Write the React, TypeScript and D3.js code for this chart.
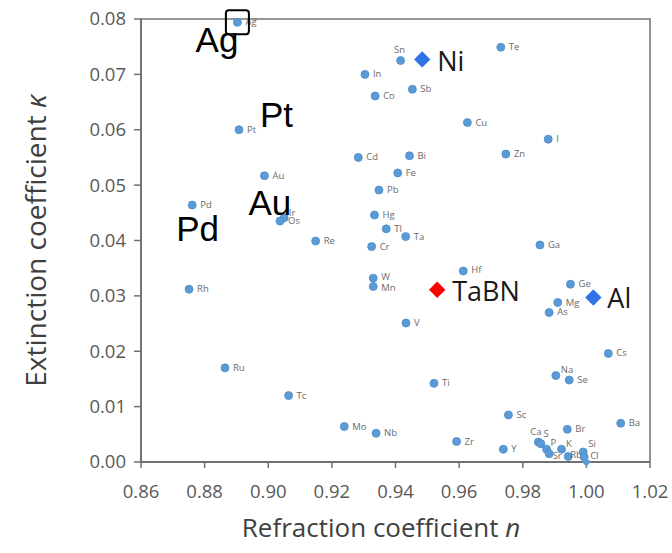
import React from 'react';
import * as d3 from 'd3';

const elements = ['Ag','Sn','In','Co','Pt','Cd','Te','Sb','Cu','I','Bi','Zn','Au','Pd','Ir','Os','Re','Fe','Pb','Hg','Tl','Ta','Cr','W','Mn','Rh','V','Ga','Hf','Ge','Mg','As','Ru','Tc','Mo','Nb','Cs','Ti','Na','Se','Sc','Ba','Br','Zr','Y','Ca','S','P','Sr','K','Rb','Si','Cl'];
const refractionN = [0.8903,0.9416,0.9304,0.9336,0.8908,0.9283,0.9731,0.9453,0.9626,0.9880,0.9444,0.9747,0.8988,0.8761,0.9050,0.9037,0.9149,0.9407,0.9348,0.9334,0.9371,0.9432,0.9325,0.9330,0.9330,0.8751,0.9433,0.9854,0.9613,0.9950,0.9910,0.9883,0.8864,0.9064,0.9239,0.9339,1.0069,0.9521,0.9904,0.9946,0.9755,1.0108,0.9940,0.9592,0.9739,0.9849,0.9857,0.9875,0.9883,0.9922,0.9943,0.9990,0.9993];
const extinctionK = [0.0794,0.0725,0.0700,0.0661,0.0600,0.0550,0.0749,0.0673,0.0613,0.0583,0.0553,0.0556,0.0517,0.0464,0.0441,0.0435,0.0399,0.0522,0.0491,0.0446,0.0421,0.0407,0.0389,0.0332,0.0317,0.0312,0.0251,0.0392,0.0345,0.0321,0.0288,0.0270,0.0170,0.0120,0.0064,0.0052,0.0196,0.0142,0.0156,0.0148,0.0085,0.0070,0.0059,0.0037,0.0023,0.0036,0.0033,0.0023,0.0015,0.0023,0.0010,0.0018,0.0009];

const highlightNames = ['Ni','TaBN','Al'];
const highlightN = [0.9484,0.9531,1.0022];
const highlightK = [0.0727,0.0311,0.0297];
const highlightColors = ['#2F74E6','#FF0000','#2F74E6'];

const vacuumN = [1.0];
const vacuumK = [0.0];

const calloutNames = ['Ag','Pt','Pd','Au'];

const xTicks = [0.86,0.88,0.90,0.92,0.94,0.96,0.98,1.00,1.02];
const yTicks = [0.00,0.01,0.02,0.03,0.04,0.05,0.06,0.07,0.08];

// label placement tweaks (dx, dy) relative to the dot
const labelOffsets: Record<string, [number, number]> = {
  Sn: [-6.5, -8], Na: [5, -3], Ca: [-8, -6.6], S: [2.5, -6.5], P: [4, -3.3],
  K: [4.5, -2.3], Sr: [3.5, 5.5], Rb: [2, 1.3], Si: [5, -5.3], Cl: [6, 1.7], Ir: [4.7, -2],
  Hf: [8, 2], W: [8, 2], Mn: [8, 4.5],
};
// big callout text offsets relative to the dot (x, baseline, anchor)
const calloutOffsets: Record<string, [number, number, string]> = {
  Ag: [1, 30, 'end'], Pt: [21, -3, 'start'], Pd: [-16, 36, 'start'], Au: [-16, 39, 'start'],
};
const highlightOffsets: Record<string, [number, number]> = {
  Ni: [15, 12], TaBN: [15, 11], Al: [14, 10],
};

export default function App() {
  const W = 672, H = 553;
  const x = d3.scaleLinear().domain([0.86, 1.02]).range([141, 650]);
  const y = d3.scaleLinear().domain([0, 0.08]).range([462, 19]);
  const fmt = d3.format('.2f');
  const diamond = (s: number) => d3.symbol().type(d3.symbolDiamond2).size(s)();
  const smallFont = "'Open Sans', 'Noto Sans', sans-serif";

  const pts = elements.map((e, i) => ({ e, n: refractionN[i], k: extinctionK[i] }));
  const byName = Object.fromEntries(pts.map(p => [p.e, p]));
  const agDot = byName['Ag'];

  return (
    <svg width={W} height={H} style={{ position: 'absolute', left: 0, top: 0, background: '#fff' }}>
      <rect x={0} y={0} width={W} height={H} fill="#fff" />
      {/* frame */}
      <rect x={x(0.86)} y={y(0.08)} width={x(1.02) - x(0.86)} height={y(0) - y(0.08)} fill="none" stroke="#8a8a8a" strokeWidth={1.8} />
      {/* axes */}
      <line x1={x(0.86)} x2={x(0.86)} y1={y(0.08)} y2={y(0)} stroke="#707070" strokeWidth={1.8} />
      <line x1={x(0.86)} x2={x(1.02)} y1={y(0)} y2={y(0)} stroke="#707070" strokeWidth={1.8} />
      {yTicks.map(t => (
        <g key={'y' + t}>
          <line x1={x(0.86) - 7} x2={x(0.86)} y1={y(t)} y2={y(t)} stroke="#707070" strokeWidth={1.5} />
          <text x={126} y={y(t)} dy="0.35em" textAnchor="end" fontFamily={smallFont} fontSize={18.5} fill="#595959">{fmt(t)}</text>
        </g>
      ))}
      {xTicks.map(t => (
        <g key={'x' + t}>
          <line x1={x(t)} x2={x(t)} y1={y(0)} y2={y(0) + 6} stroke="#707070" strokeWidth={1.5} />
          <text x={x(t)} y={498} textAnchor="middle" fontFamily={smallFont} fontSize={18.5} fill="#595959">{fmt(t)}</text>
        </g>
      ))}
      {/* axis titles */}
      <text transform={`translate(46, ${(y(0) + y(0.08)) / 2}) rotate(-90)`} textAnchor="middle" fontFamily={smallFont} fontSize={28} fill="#404040">
        Extinction coefficient <tspan fontStyle="italic">κ</tspan>
      </text>
      <text x={381} y={537} textAnchor="middle" fontFamily={smallFont} fontSize={26} fill="#404040">
        Refraction coefficient <tspan fontStyle="italic">n</tspan>
      </text>

      {/* element points */}
      {pts.map(p => {
        const off = labelOffsets[p.e] || [8, 3];
        return (
          <g key={p.e}>
            <circle cx={x(p.n)} cy={y(p.k)} r={4} fill="#5B9BD5" stroke="#4A8BCB" strokeWidth={0.8} />
            <text x={x(p.n) + off[0]} y={y(p.k) + off[1]} fontFamily={smallFont} fontSize={9.5} fill="#6b6b6b">{p.e}</text>
          </g>
        );
      })}
      {/* vacuum reference */}
      {vacuumN.map((n, i) => (
        <path key={'v' + i} d={diamond(50) || ''} transform={`translate(${x(n)},${y(vacuumK[i])})`} fill="#5B9BD5" />
      ))}

      {/* highlighted materials */}
      {highlightNames.map((name, i) => {
        const cx = x(highlightN[i]), cy = y(highlightK[i]);
        const off = highlightOffsets[name];
        return (
          <g key={name}>
            <path d={diamond(170) || ''} transform={`translate(${cx},${cy})`} fill={highlightColors[i]} />
            <text x={cx + off[0]} y={cy + off[1]} fontFamily="'Open Sans', sans-serif" fontSize={27} fill="#1a1a1a">{name}</text>
          </g>
        );
      })}

      {/* callouts */}
      <rect x={x(agDot.n) - 11.5} y={y(agDot.k) - 12} width={23} height={24} rx={3} fill="none" stroke="#000" strokeWidth={2} />
      {calloutNames.map(name => {
        const p = byName[name];
        const off = calloutOffsets[name];
        return (
          <text key={'c' + name} x={x(p.n) + off[0]} y={y(p.k) + off[1]} textAnchor={off[2] as any} fontFamily="'Liberation Sans', Arial, sans-serif" fontSize={35} fill="#000">{name}</text>
        );
      })}
    </svg>
  );
}
